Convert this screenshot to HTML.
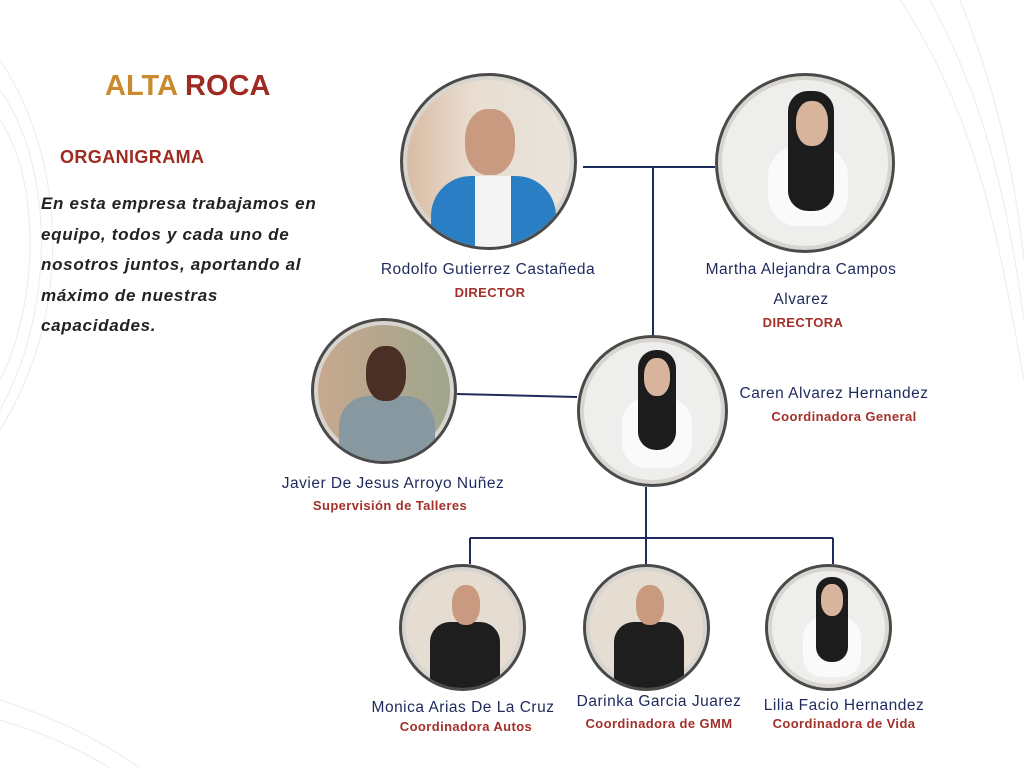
<!DOCTYPE html>
<html><head><meta charset="utf-8"><style>
body{margin:0;width:1024px;height:768px;background:#fff;position:relative;overflow:hidden;font-family:"Liberation Sans",sans-serif}
.t{position:absolute;white-space:nowrap;text-align:center;transform:translateX(-50%)}
.n{color:#1f2a5c;font-size:15.5px;letter-spacing:0.5px}
.r{color:#a3302a;font-size:13px;font-weight:bold;letter-spacing:0.4px}
.c{position:absolute;border-radius:50%;border:3px solid #4a4a4a;box-shadow:inset 0 0 0 4px #d8d4cf;overflow:hidden;box-sizing:border-box}
</style></head><body>
<svg width="1024" height="768" style="position:absolute;left:0;top:0">
<g fill="none" stroke="#ececec" stroke-width="1">
<path d="M0 430 C80 300 60 150 0 60"/><path d="M0 410 C60 300 50 160 0 90"/><path d="M0 380 C40 300 40 180 0 120"/>
<path d="M900 0 C980 120 1000 250 1024 380"/><path d="M930 0 C990 110 1010 220 1024 320"/><path d="M960 0 C1000 100 1015 180 1024 260"/>
<path d="M0 700 C60 720 100 740 140 768"/><path d="M0 720 C50 735 80 750 110 768"/>
</g>
<g stroke="#1f2a5c" stroke-width="2" fill="none">
<path d="M583 167H715M653 167V335M457 394L577 397M646 487V564M470 538H833M470 538V564M833 538V564"/>
</g>
</svg>
<div style="position:absolute;left:105px;top:70px;font-size:29px;font-weight:bold"><span style="color:#c98a30">ALTA</span> <span style="color:#9e2a22">ROCA</span></div>
<div style="position:absolute;left:60px;top:147px;font-size:18px;font-weight:bold;color:#9e2a22;letter-spacing:0.4px">ORGANIGRAMA</div>
<div style="position:absolute;left:41px;top:189px;font-size:17px;font-weight:bold;font-style:italic;color:#222;line-height:30.5px;letter-spacing:0.7px;white-space:nowrap">En esta empresa trabajamos en<br>equipo, todos y cada uno de<br>nosotros juntos, aportando al<br>máximo de nuestras<br>capacidades.</div>

<div class="c" style="left:400px;top:73px;width:177px;height:177px;background:linear-gradient(90deg,#d9b9a0 0,#e8ddd0 40%,#e9e4dc 100%)"><div style="position:absolute;left:28px;top:100px;width:125px;height:90px;background:#2a7fc4;border-radius:40px 40px 0 0"></div><div style="position:absolute;left:72px;top:100px;width:36px;height:80px;background:#f4f4f4"></div><div style="position:absolute;left:62px;top:33px;width:50px;height:66px;background:#c99a80;border-radius:45%"></div></div>
<div class="c" style="left:715px;top:73px;width:180px;height:180px;background:#eeeeec"><div style="position:absolute;left:50px;top:70px;width:80px;height:80px;background:#fafafa;border-radius:30px"></div><div style="position:absolute;left:70px;top:15px;width:46px;height:120px;background:#1c1c1c;border-radius:20px"></div><div style="position:absolute;left:78px;top:25px;width:32px;height:45px;background:#d8b49c;border-radius:45%"></div></div>
<div class="c" style="left:311px;top:318px;width:146px;height:146px;background:linear-gradient(90deg,#c9a98e,#9da58d)"><div style="position:absolute;left:25px;top:75px;width:96px;height:70px;background:#8898a0;border-radius:30px 30px 0 0"></div><div style="position:absolute;left:52px;top:25px;width:40px;height:55px;background:#4a3024;border-radius:45%"></div></div>
<div class="c" style="left:577px;top:335px;width:151px;height:152px;background:#eeeeec"><div style="position:absolute;left:42px;top:60px;width:70px;height:70px;background:#fafafa;border-radius:25px"></div><div style="position:absolute;left:58px;top:12px;width:38px;height:100px;background:#1c1c1c;border-radius:18px"></div><div style="position:absolute;left:64px;top:20px;width:26px;height:38px;background:#d8b49c;border-radius:45%"></div></div>
<div class="c" style="left:399px;top:564px;width:127px;height:127px;background:#e5dcd2"><div style="position:absolute;left:28px;top:55px;width:70px;height:70px;background:#1e1e1e;border-radius:20px 20px 0 0"></div><div style="position:absolute;left:50px;top:18px;width:28px;height:40px;background:#c99a80;border-radius:45%"></div></div>
<div class="c" style="left:583px;top:564px;width:127px;height:127px;background:#e5dcd2"><div style="position:absolute;left:28px;top:55px;width:70px;height:70px;background:#1e1e1e;border-radius:20px 20px 0 0"></div><div style="position:absolute;left:50px;top:18px;width:28px;height:40px;background:#c99a80;border-radius:45%"></div></div>
<div class="c" style="left:765px;top:564px;width:127px;height:127px;background:#eeeeec"><div style="position:absolute;left:35px;top:50px;width:58px;height:60px;background:#fafafa;border-radius:20px"></div><div style="position:absolute;left:48px;top:10px;width:32px;height:85px;background:#1c1c1c;border-radius:15px"></div><div style="position:absolute;left:53px;top:17px;width:22px;height:32px;background:#d8b49c;border-radius:45%"></div></div>

<div class="t n" style="left:488px;top:261px">Rodolfo Gutierrez Castañeda</div>
<div class="t r" style="left:490px;top:285px">DIRECTOR</div>
<div class="t n" style="left:801px;top:261px">Martha Alejandra Campos</div>
<div class="t n" style="left:801px;top:291px">Alvarez</div>
<div class="t r" style="left:803px;top:315px">DIRECTORA</div>
<div class="t n" style="left:834px;top:385px">Caren Alvarez Hernandez</div>
<div class="t r" style="left:844px;top:409px">Coordinadora General</div>
<div class="t n" style="left:393px;top:475px">Javier De Jesus Arroyo Nuñez</div>
<div class="t r" style="left:390px;top:498px">Supervisión de Talleres</div>
<div class="t n" style="left:463px;top:699px">Monica Arias De La Cruz</div>
<div class="t r" style="left:466px;top:719px">Coordinadora Autos</div>
<div class="t n" style="left:659px;top:693px">Darinka Garcia Juarez</div>
<div class="t r" style="left:659px;top:716px">Coordinadora de GMM</div>
<div class="t n" style="left:844px;top:697px">Lilia Facio Hernandez</div>
<div class="t r" style="left:844px;top:716px">Coordinadora de Vida</div>
</body></html>
